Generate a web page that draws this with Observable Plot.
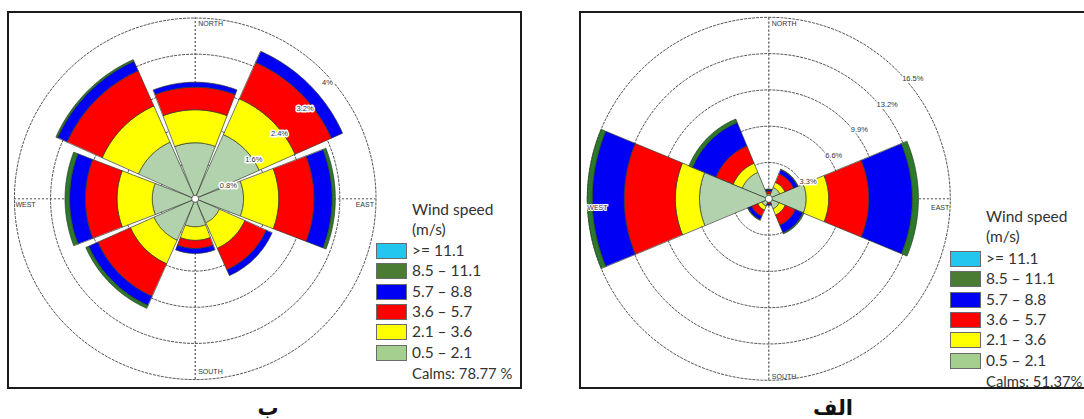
<!DOCTYPE html>
<html>
<head>
<meta charset="utf-8">
<script src="https://cdn.jsdelivr.net/npm/d3@7"></script>
<script src="https://cdn.jsdelivr.net/npm/@observablehq/plot@0.6"></script>
<style>
  html, body { margin: 0; padding: 0; background: #fff; }
  body { width: 1084px; height: 419px; overflow: hidden; position: relative; font-family: Lato, "Open Sans", sans-serif; }
  .box { position: absolute; border: 2px solid #1a1a1a; box-sizing: border-box; pointer-events: none; }
  .rose { position: absolute; }
  .legend { position: absolute; color: #333; font-size: 15.5px; line-height: 1; }
  .legend .title { position: absolute; white-space: nowrap; }
  .legend .sw { position: absolute; width: 31px; height: 16px; box-sizing: border-box; border: 1px solid #6a6a6a; }
  .legend .lab { position: absolute; white-space: nowrap; transform: translateY(-50%); }
  .legend .calms { font-size: 14.8px; }
  .caption { position: absolute; font-family: "DejaVu Sans", sans-serif; font-weight: bold; font-size: 21px; line-height: 1; color: #111; transform: translate(-50%, -50%); white-space: nowrap; }
</style>
</head>
<body>
<script>
// Sector order (clockwise from north)
const directions = ["N", "NE", "E", "SE", "S", "SW", "W", "NW"];
const directionAngles = [0, 45, 90, 135, 180, 225, 270, 315];

// Speed classes, innermost first, and their fills
const speedBands = ["0.5 – 2.1", "2.1 – 3.6", "3.6 – 5.7", "5.7 – 8.8", "8.5 – 11.1", ">= 11.1"];
const bandColors = ["#b2d2ae", "#ffff00", "#ff0000", "#0000f5", "#2a7a2a", "#22c6ee"];
const legendOrder = [">= 11.1", "8.5 – 11.1", "5.7 – 8.8", "3.6 – 5.7", "2.1 – 3.6", "0.5 – 2.1"];
const legendColors = ["#22c6ee", "#4a7c34", "#0000f5", "#ff0000", "#ffff00", "#a4cf8e"];

// Station ب — frequency (%) per sector for each speed class
const bFreq_05_21 = [1.24, 1.55, 1.07, 0.58, 0.62, 1.00, 0.95, 1.37];
const bFreq_21_36 = [0.73, 0.87, 0.78, 0.62, 0.30, 0.57, 0.78, 0.88];
const bFreq_36_57 = [0.50, 0.88, 0.78, 0.52, 0.18, 0.79, 0.70, 0.85];
const bFreq_57_88 = [0.11, 0.27, 0.40, 0.14, 0.11, 0.22, 0.35, 0.23];
const bFreq_85_111 = [0.00, 0.00, 0.07, 0.00, 0.00, 0.07, 0.10, 0.04];
const bFreq_111 = [0, 0, 0, 0, 0, 0, 0, 0];
const bRings = [0.8, 1.6, 2.4, 3.2, 4];
const bRingLabels = ["0.8%", "1.6%", "2.4%", "3.2%", "4%"];
const bCalms = "Calms: 78.77 %";

// Station الف — frequency (%) per sector for each speed class
const aFreq_05_21 = [0.30, 1.10, 3.40, 1.00, 0.25, 0.70, 6.30, 2.60];
const aFreq_21_36 = [0.15, 0.50, 2.05, 0.60, 0.10, 0.40, 2.20, 0.90];
const aFreq_36_57 = [0.25, 0.85, 3.65, 1.00, 0.15, 0.60, 4.65, 1.70];
const aFreq_57_88 = [0.15, 0.40, 3.95, 0.75, 0.10, 0.35, 2.90, 2.30];
const aFreq_85_111 = [0.05, 0.05, 0.55, 0.10, 0.00, 0.05, 0.45, 0.35];
const aFreq_111 = [0, 0, 0, 0, 0, 0, 0, 0];
const aRings = [3.3, 6.6, 9.9, 13.2, 16.5];
const aRingLabels = ["3.3%", "6.6%", "9.9%", "13.2%", "16.5%"];
const aCalms = "Calms: 51.37%";

const compass = ["NORTH", "EAST", "SOUTH", "WEST"];

const rad = Math.PI / 180;
const polar = (r, deg) => ({x: r * Math.sin(deg * rad), y: r * Math.cos(deg * rad)});

// Build one closed polygon per (sector, speed class) stacked outward from the centre
function wedges(freqs, halfWidth) {
  const pts = [];
  const steps = 40;
  directions.forEach((dir, i) => {
    let cum = 0;
    freqs.forEach((arr, k) => {
      const v = arr[i];
      if (!(v > 0)) return;
      const r0 = cum, r1 = cum + v;
      const id = dir + "-" + k;
      const a0 = directionAngles[i] - halfWidth, a1 = directionAngles[i] + halfWidth;
      for (let t = 0; t <= steps; ++t) pts.push({id, band: speedBands[k], ...polar(r1, a0 + (a1 - a0) * t / steps)});
      if (r0 > 0) for (let t = steps; t >= 0; --t) pts.push({id, band: speedBands[k], ...polar(r0, a0 + (a1 - a0) * t / steps)});
      else pts.push({id, band: speedBands[k], x: 0, y: 0});
      cum = r1;
    });
  });
  return pts;
}

function ringPoints(rings) {
  const pts = [];
  rings.forEach(r => { for (let a = 0; a <= 360; a += 2) pts.push({ring: r, ...polar(r, a)}); });
  return pts;
}

function rose({freqs, rings, ringLabels, halfWidth, k, width, height, cx, cy, labelDx, labelDy, compassOffsets, boxedWest}) {
  const outer = rings[rings.length - 1];
  const labelData = rings.map((r, i) => ({text: ringLabels[i], ...polar(r, 45)}));
  const compassData = compass.map((t, i) => ({text: t, ...polar(outer, i * 90)}));
  const gridStyle = {stroke: "#555", strokeWidth: 1, strokeDasharray: "2.2,1.8"};
  const marks = [
    Plot.line(ringPoints(rings), {x: "x", y: "y", z: "ring", curve: "linear-closed", ...gridStyle}),
    Plot.ruleX([0], {y1: -outer, y2: outer, ...gridStyle, strokeWidth: 1.2}),
    Plot.ruleY([0], {x1: -outer, x2: outer, ...gridStyle}),
    Plot.line(wedges(freqs, halfWidth), {x: "x", y: "y", z: "id", fill: "band", stroke: "#2e3a2a", strokeWidth: 0.7, curve: "linear-closed"}),
    Plot.dot([0], {x: 0, y: 0, r: 3.5, fill: "white", stroke: "#333", strokeWidth: 0.7}),
    Plot.text(labelData, {x: "x", y: "y", text: "text", dx: labelDx, dy: labelDy, textAnchor: "start", fontSize: 7.5, fill: "#333", stroke: "white", strokeWidth: 3, fontFamily: "Liberation Sans, sans-serif"})
  ];
  const anchors = ["start", "end", "start", "start"];
  compassData.forEach((d, i) => {
    marks.push(Plot.text([d], {x: "x", y: "y", text: "text", textAnchor: anchors[i], dx: compassOffsets[i][0], dy: compassOffsets[i][1], fontSize: 7, fill: "#333", fontFamily: "Liberation Sans, sans-serif",
      ...(boxedWest && i === 3 ? {stroke: "white", strokeWidth: 2} : {})}));
  });
  return Plot.plot({
    width, height, margin: 0,
    x: {domain: [-cx / k, (width - cx) / k], axis: null},
    y: {domain: [-(height - cy) / k, cy / k], axis: null},
    color: {domain: speedBands, range: bandColors},
    style: {background: "none", overflow: "visible", maxWidth: "none"},
    marks
  });
}

function place(el, left, top, cls) {
  el.classList.add(cls);
  el.style.left = left + "px";
  el.style.top = top + "px";
  document.body.appendChild(el);
}

function legend(left, top, swTop, calms) {
  const div = document.createElement("div");
  div.className = "legend";
  div.style.left = left + "px";
  div.style.top = top + "px";
  const title1 = document.createElement("div");
  title1.className = "title"; title1.textContent = "Wind speed";
  title1.style.left = "36px"; title1.style.top = "0px";
  const title2 = document.createElement("div");
  title2.className = "title"; title2.textContent = "(m/s)";
  title2.style.left = "36px"; title2.style.top = "20px";
  div.append(title1, title2);
  legendOrder.forEach((lab, i) => {
    const y = swTop + i * 20.3;
    const sw = document.createElement("div");
    sw.className = "sw"; sw.style.left = "0px"; sw.style.top = y + "px"; sw.style.background = legendColors[i];
    const tx = document.createElement("div");
    tx.className = "lab"; tx.textContent = lab; tx.style.left = "36px"; tx.style.top = (y + 8) + "px";
    div.append(sw, tx);
  });
  const c = document.createElement("div");
  c.className = "lab calms"; c.textContent = calms; c.style.left = "36px"; c.style.top = (swTop + 6 * 20.3 + 8) + "px";
  div.append(c);
  document.body.appendChild(div);
}

// Panel ب (left)
place(rose({
  freqs: [bFreq_05_21, bFreq_21_36, bFreq_36_57, bFreq_57_88, bFreq_85_111, bFreq_111],
  rings: bRings, ringLabels: bRingLabels, halfWidth: 21, k: 45.2,
  width: 512, height: 375, cx: 186.7, cy: 186.3, labelDx: -1, labelDy: 12,
  compassOffsets: [[3, 6], [-2, 6], [3, -8], [1, 6]], boxedWest: false
}), 8, 12, "rose");

// Panel الف (right)
place(rose({
  freqs: [aFreq_05_21, aFreq_21_36, aFreq_36_57, aFreq_57_88, aFreq_85_111, aFreq_111],
  rings: aRings, ringLabels: aRingLabels, halfWidth: 22.5, k: 11.0,
  width: 503, height: 373, cx: 187.3, cy: 185.3, labelDx: 5, labelDy: 8,
  compassOffsets: [[3, 6], [-1, 9], [3, -4], [0, 9]], boxedWest: true
}), 581, 13, "rose");

legend(376, 202, 41, bCalms);
legend(950, 209, 42, aCalms);

// Panel frames
const b1 = document.createElement("div"); b1.className = "box";
Object.assign(b1.style, {left: "7px", top: "11px", width: "515px", height: "378px"});
const b2 = document.createElement("div"); b2.className = "box";
Object.assign(b2.style, {left: "579px", top: "11px", width: "520px", height: "378px"});
document.body.append(b1, b2);

// Panel captions
[["ب", 268, 408], ["الف", 833, 408]].forEach(([t, x, y]) => {
  const d = document.createElement("div");
  d.className = "caption"; d.textContent = t; d.dir = "rtl";
  d.style.left = x + "px"; d.style.top = y + "px";
  document.body.appendChild(d);
});
</script>
</body>
</html>
